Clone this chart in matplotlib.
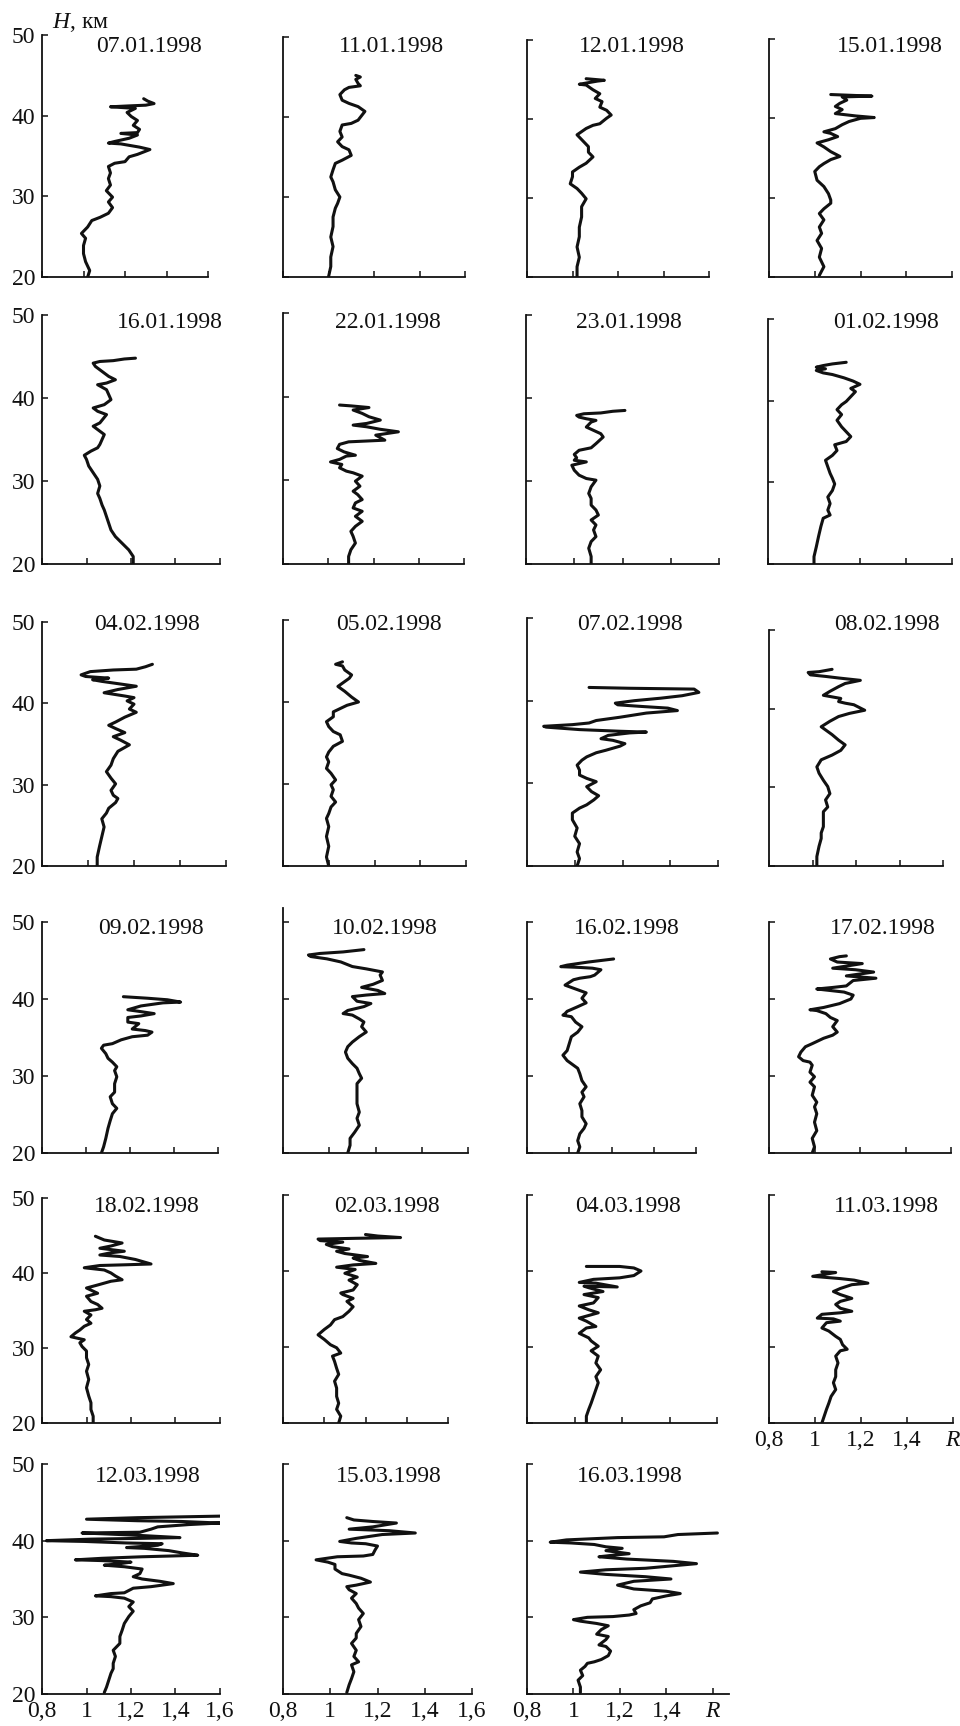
import matplotlib.pyplot as plt

plt.rcParams["font.family"] = ["Liberation Serif", "DejaVu Serif"]
plt.rcParams["mathtext.fontset"] = "custom"
plt.rcParams["mathtext.it"] = "Liberation Serif:italic"
plt.rcParams["mathtext.rm"] = "Liberation Serif"

# lidar scattering ratio profiles: (altitude H, km ; ratio R)
p_07_01 = [(20.0, 1.02), (20.8, 1.03), (21.9, 1.01), (22.9, 1.00), (23.9, 1.00), (24.8, 1.01), (25.4, 0.99),
           (26.2, 1.02), (27.0, 1.04), (27.4, 1.08), (27.9, 1.12), (28.6, 1.14), (29.3, 1.12), (29.9, 1.14),
           (30.7, 1.11), (31.4, 1.13), (32.2, 1.12), (32.9, 1.13), (33.7, 1.12), (34.1, 1.15), (34.3, 1.20),
           (34.9, 1.22), (35.2, 1.26), (35.5, 1.29), (35.8, 1.32), (36.1, 1.27), (36.5, 1.18), (36.6, 1.12),
           (36.8, 1.15), (37.2, 1.22), (37.6, 1.26), (37.8, 1.18), (37.9, 1.26), (38.3, 1.27), (38.8, 1.24),
           (39.4, 1.26), (39.9, 1.23), (40.4, 1.21), (40.9, 1.25), (41.1, 1.13), (41.2, 1.21), (41.3, 1.30),
           (41.5, 1.34), (41.8, 1.31), (42.1, 1.29)]
p_11_01 = [(20.0, 1.00), (21.3, 1.01), (22.5, 1.01), (23.8, 1.02), (25.0, 1.01), (26.3, 1.02), (27.5, 1.02),
           (28.6, 1.03), (29.2, 1.04), (30.0, 1.05), (30.9, 1.03), (31.9, 1.02), (32.5, 1.01), (33.4, 1.02),
           (34.2, 1.03), (34.6, 1.06), (35.2, 1.10), (35.9, 1.09), (36.3, 1.06), (36.9, 1.04), (37.5, 1.06),
           (38.2, 1.05), (39.0, 1.06), (39.2, 1.10), (39.6, 1.13), (40.7, 1.16), (41.3, 1.13), (41.7, 1.09),
           (42.1, 1.06), (42.8, 1.05), (43.4, 1.07), (43.7, 1.09), (43.9, 1.14), (44.2, 1.13), (44.7, 1.12),
           (45.0, 1.14), (45.2, 1.12)]
p_12_01 = [(20.0, 1.02), (21.3, 1.02), (22.5, 1.03), (23.8, 1.02), (25.1, 1.03), (26.3, 1.03), (27.6, 1.04),
           (28.9, 1.04), (29.9, 1.06), (30.6, 1.04), (31.2, 1.02), (31.8, 0.99), (32.7, 1.00), (33.3, 1.00),
           (33.9, 1.03), (34.4, 1.06), (35.2, 1.09), (35.8, 1.07), (36.5, 1.07), (37.1, 1.05), (38.0, 1.02),
           (38.4, 1.04), (38.8, 1.06), (39.2, 1.09), (39.4, 1.12), (40.1, 1.15), (40.5, 1.17), (41.1, 1.15),
           (41.5, 1.12), (42.2, 1.13), (42.6, 1.10), (43.2, 1.12), (43.7, 1.09), (44.3, 1.06), (44.4, 1.03),
           (44.6, 1.07), (44.8, 1.11), (44.9, 1.14), (45.1, 1.06)]
p_15_01 = [(20.2, 1.02), (21.3, 1.04), (22.5, 1.02), (23.6, 1.03), (24.6, 1.01), (25.5, 1.03), (26.3, 1.02),
           (27.2, 1.04), (28.0, 1.02), (28.6, 1.04), (29.3, 1.07), (29.7, 1.07), (30.5, 1.06), (31.4, 1.04),
           (32.2, 1.01), (33.3, 1.00), (33.9, 1.02), (34.3, 1.04), (34.8, 1.07), (35.2, 1.11), (35.8, 1.07),
           (36.4, 1.04), (36.9, 1.01), (37.3, 1.06), (37.7, 1.10), (38.1, 1.07), (38.3, 1.04), (38.7, 1.09),
           (39.2, 1.12), (39.6, 1.15), (40.0, 1.20), (40.1, 1.26), (40.3, 1.18), (40.4, 1.15), (40.6, 1.09),
           (41.1, 1.12), (41.5, 1.09), (41.9, 1.11), (42.3, 1.14), (42.7, 1.12), (42.8, 1.25), (43.0, 1.07)]
p_16_01 = [(20.0, 1.21), (20.9, 1.21), (21.7, 1.19), (22.5, 1.16), (23.3, 1.13), (24.1, 1.11), (24.9, 1.10),
           (25.7, 1.09), (26.5, 1.08), (27.1, 1.07), (27.9, 1.06), (28.5, 1.05), (29.4, 1.06), (30.2, 1.05),
           (31.0, 1.03), (31.8, 1.01), (32.6, 1.00), (33.1, 0.99), (33.6, 1.02), (34.0, 1.05), (34.4, 1.06),
           (35.0, 1.07), (35.6, 1.08), (36.2, 1.05), (36.6, 1.03), (37.0, 1.06), (38.0, 1.09), (38.4, 1.05),
           (38.8, 1.03), (39.2, 1.08), (39.8, 1.11), (40.4, 1.10), (41.0, 1.09), (41.6, 1.05), (41.8, 1.09),
           (42.2, 1.13), (42.6, 1.10), (43.2, 1.07), (43.8, 1.04), (44.2, 1.03), (44.4, 1.06), (44.5, 1.12),
           (44.7, 1.17), (44.8, 1.22)]
p_22_01 = [(20.0, 1.09), (20.9, 1.09), (21.7, 1.10), (22.5, 1.12), (23.3, 1.11), (23.9, 1.10), (24.5, 1.12),
           (25.1, 1.15), (25.7, 1.12), (26.3, 1.15), (26.7, 1.11), (27.3, 1.12), (27.7, 1.15), (28.3, 1.13),
           (28.7, 1.11), (29.3, 1.14), (29.9, 1.12), (30.5, 1.15), (30.9, 1.11), (31.1, 1.08), (31.5, 1.05),
           (31.9, 1.06), (32.2, 1.01), (32.5, 1.05), (32.9, 1.08), (33.0, 1.12), (33.4, 1.07), (33.8, 1.04),
           (34.3, 1.05), (34.6, 1.09), (34.7, 1.17), (34.8, 1.25), (35.4, 1.21), (35.8, 1.31), (36.1, 1.23),
           (36.4, 1.17), (36.6, 1.11), (36.8, 1.17), (37.2, 1.23), (37.6, 1.18), (38.0, 1.15), (38.4, 1.11),
           (38.7, 1.18), (38.9, 1.10), (39.0, 1.05)]
p_23_01 = [(20.0, 1.07), (20.9, 1.07), (21.9, 1.06), (22.7, 1.07), (23.3, 1.09), (24.1, 1.08), (24.7, 1.09),
           (25.3, 1.07), (25.9, 1.10), (26.5, 1.09), (27.1, 1.07), (27.9, 1.07), (28.5, 1.06), (29.3, 1.07),
           (30.1, 1.09), (30.3, 1.05), (30.7, 1.02), (31.3, 1.00), (31.9, 0.99), (32.3, 1.05), (32.5, 1.00),
           (32.8, 1.01), (33.2, 1.00), (33.7, 1.02), (34.0, 1.07), (34.5, 1.09), (35.3, 1.12), (35.7, 1.11),
           (36.1, 1.08), (36.5, 1.05), (37.1, 1.07), (37.3, 1.09), (37.5, 1.05), (37.7, 1.02), (37.9, 1.01),
           (38.1, 1.04), (38.2, 1.11), (38.4, 1.16), (38.5, 1.21)]
p_01_02 = [(20.0, 1.00), (20.9, 1.00), (22.1, 1.01), (23.4, 1.02), (24.6, 1.03), (25.6, 1.04), (26.0, 1.07),
           (26.6, 1.06), (27.4, 1.07), (28.2, 1.06), (29.0, 1.08), (29.8, 1.09), (30.5, 1.08), (31.1, 1.07),
           (31.9, 1.06), (32.7, 1.05), (33.3, 1.08), (33.9, 1.10), (34.6, 1.09), (35.0, 1.14), (35.6, 1.16),
           (36.2, 1.14), (36.8, 1.12), (37.6, 1.10), (38.3, 1.12), (38.9, 1.10), (39.5, 1.12), (39.9, 1.14),
           (40.5, 1.16), (41.1, 1.18), (41.5, 1.16), (42.0, 1.20), (42.4, 1.17), (42.8, 1.13), (43.2, 1.08),
           (43.4, 1.04), (43.7, 1.01), (43.9, 1.05), (44.1, 1.01), (44.3, 1.04), (44.5, 1.08), (44.7, 1.14)]
p_04_02 = [(20.0, 1.04), (21.1, 1.04), (22.4, 1.05), (23.6, 1.06), (24.8, 1.07), (25.8, 1.06), (26.5, 1.08),
           (27.1, 1.09), (27.8, 1.12), (28.3, 1.13), (28.7, 1.11), (29.3, 1.10), (30.1, 1.12), (30.8, 1.10),
           (31.6, 1.08), (32.4, 1.10), (33.2, 1.11), (34.1, 1.13), (34.9, 1.18), (35.5, 1.14), (35.9, 1.11),
           (36.4, 1.16), (36.9, 1.12), (37.3, 1.09), (37.7, 1.12), (38.3, 1.16), (38.9, 1.21), (39.3, 1.18),
           (39.9, 1.20), (40.3, 1.17), (40.7, 1.20), (40.9, 1.16), (41.3, 1.07), (41.7, 1.13), (42.1, 1.21),
           (42.7, 1.06), (42.9, 1.02), (43.1, 1.09), (43.3, 0.99), (43.5, 0.97), (43.9, 1.01), (44.1, 1.11),
           (44.2, 1.21), (44.5, 1.25), (44.8, 1.28)]
p_05_02 = [(20.0, 1.00), (21.1, 0.99), (22.4, 1.00), (23.6, 0.99), (24.8, 1.00), (25.8, 0.99), (26.4, 1.00),
           (27.2, 1.01), (27.8, 1.03), (28.5, 1.01), (29.3, 1.02), (29.9, 1.01), (30.5, 1.03), (31.3, 1.01),
           (31.9, 0.99), (32.7, 1.00), (33.3, 0.99), (33.9, 1.00), (34.6, 1.02), (35.2, 1.06), (36.0, 1.05),
           (36.4, 1.02), (37.0, 1.00), (37.6, 0.99), (38.2, 1.02), (38.8, 1.02), (39.2, 1.05), (39.6, 1.08),
           (40.0, 1.13), (40.6, 1.10), (41.3, 1.07), (41.9, 1.04), (42.3, 1.06), (42.9, 1.09), (43.3, 1.10),
           (43.9, 1.07), (44.4, 1.06), (44.6, 1.03), (44.9, 1.06)]
p_07_02 = [(20.0, 1.01), (20.9, 1.02), (21.7, 1.01), (22.7, 1.02), (23.6, 1.00), (24.6, 1.01), (25.6, 0.99),
           (26.4, 0.99), (27.0, 1.02), (27.4, 1.05), (28.0, 1.08), (28.5, 1.10), (29.0, 1.07), (29.6, 1.05),
           (30.2, 1.09), (30.6, 1.05), (31.0, 1.02), (31.6, 1.02), (32.2, 1.01), (32.8, 1.03), (33.2, 1.05),
           (33.7, 1.09), (34.0, 1.13), (34.5, 1.19), (34.8, 1.21), (35.2, 1.16), (35.4, 1.11), (35.8, 1.14),
           (36.1, 1.23), (36.2, 1.30), (36.3, 1.19), (36.5, 1.02), (36.8, 0.88), (36.9, 0.87), (37.1, 0.99),
           (37.3, 1.06), (37.6, 1.09), (38.0, 1.19), (38.5, 1.30), (38.8, 1.43), (39.1, 1.39), (39.3, 1.28),
           (39.5, 1.18), (39.7, 1.17), (40.0, 1.25), (40.3, 1.36), (40.6, 1.45), (41.0, 1.52), (41.4, 1.50),
           (41.5, 1.23), (41.6, 1.06)]
p_08_02 = [(20.0, 1.02), (21.2, 1.02), (22.5, 1.03), (23.5, 1.04), (24.2, 1.04), (25.0, 1.05), (26.1, 1.05),
           (26.9, 1.05), (27.5, 1.07), (28.4, 1.06), (29.2, 1.08), (30.1, 1.07), (30.9, 1.05), (31.8, 1.03),
           (32.6, 1.02), (33.5, 1.04), (34.1, 1.09), (34.7, 1.13), (35.4, 1.15), (36.0, 1.12), (36.7, 1.09),
           (37.3, 1.06), (37.7, 1.04), (38.4, 1.08), (39.0, 1.12), (39.4, 1.17), (39.8, 1.24), (40.5, 1.19),
           (40.7, 1.15), (40.9, 1.12), (41.3, 1.13), (41.5, 1.09), (41.7, 1.05), (42.2, 1.08), (42.8, 1.12),
           (43.2, 1.15), (43.6, 1.22), (43.9, 1.12), (44.1, 1.06), (44.3, 0.99), (44.6, 0.98), (44.7, 1.03),
           (45.0, 1.09)]
p_09_02 = [(20.0, 1.07), (20.8, 1.08), (21.9, 1.09), (23.2, 1.10), (24.2, 1.11), (25.1, 1.12), (25.8, 1.14),
           (26.4, 1.12), (27.3, 1.11), (27.9, 1.13), (29.0, 1.13), (29.9, 1.14), (30.7, 1.13), (31.2, 1.14),
           (31.8, 1.12), (32.3, 1.10), (32.9, 1.09), (33.6, 1.07), (34.0, 1.08), (34.2, 1.12), (34.7, 1.16),
           (35.1, 1.21), (35.3, 1.28), (35.7, 1.30), (35.9, 1.27), (36.1, 1.21), (36.8, 1.24), (37.0, 1.19),
           (37.6, 1.19), (37.8, 1.25), (38.1, 1.31), (38.4, 1.24), (38.6, 1.19), (39.1, 1.25), (39.5, 1.35),
           (39.6, 1.43), (39.9, 1.37), (40.1, 1.28), (40.3, 1.17)]
p_10_02 = [(20.0, 1.08), (21.0, 1.09), (21.9, 1.09), (22.7, 1.11), (23.6, 1.13), (24.5, 1.12), (25.3, 1.13),
           (26.4, 1.12), (27.3, 1.12), (28.1, 1.12), (29.0, 1.12), (29.7, 1.14), (30.3, 1.13), (31.0, 1.12),
           (31.6, 1.10), (32.3, 1.08), (33.1, 1.07), (33.8, 1.08), (34.4, 1.10), (35.1, 1.13), (35.7, 1.16),
           (36.4, 1.14), (37.0, 1.15), (37.4, 1.13), (37.9, 1.10), (38.1, 1.06), (38.5, 1.08), (39.0, 1.15),
           (39.4, 1.18), (39.7, 1.12), (40.3, 1.10), (40.5, 1.16), (40.7, 1.24), (41.1, 1.21), (41.5, 1.14),
           (41.9, 1.19), (42.4, 1.23), (43.1, 1.22), (43.5, 1.23), (43.9, 1.16), (44.2, 1.10), (44.8, 1.05),
           (45.2, 0.99), (45.5, 0.92), (45.7, 0.91), (45.9, 0.96), (46.1, 1.06), (46.4, 1.15)]
p_16_02 = [(20.0, 1.04), (20.8, 1.05), (21.6, 1.04), (22.5, 1.05), (23.2, 1.07), (23.8, 1.08), (24.7, 1.06),
           (25.5, 1.06), (26.4, 1.05), (27.3, 1.07), (27.9, 1.06), (28.6, 1.08), (29.4, 1.06), (30.3, 1.05),
           (31.0, 1.04), (31.6, 1.01), (32.0, 0.99), (32.7, 0.97), (33.3, 0.99), (34.2, 1.00), (35.1, 1.01),
           (35.7, 1.04), (36.4, 1.06), (37.0, 1.03), (37.7, 1.01), (37.9, 0.97), (38.1, 0.98), (38.4, 0.99),
           (39.0, 1.04), (39.5, 1.08), (40.1, 1.06), (40.8, 1.08), (41.2, 1.04), (41.6, 1.00), (41.8, 0.98),
           (42.5, 1.02), (42.7, 1.05), (42.9, 1.10), (43.1, 1.12), (43.8, 1.15), (44.0, 1.11), (44.1, 1.05),
           (44.2, 0.96), (44.4, 0.99), (44.8, 1.09), (45.2, 1.21)]
p_17_02 = [(20.0, 0.99), (20.8, 1.00), (21.9, 0.99), (22.9, 1.01), (24.0, 1.00), (25.1, 1.01), (26.0, 1.00),
           (26.6, 1.01), (27.5, 0.99), (28.6, 1.00), (29.2, 0.98), (29.9, 1.00), (30.5, 0.98), (31.4, 0.99),
           (31.8, 0.98), (32.0, 0.95), (32.5, 0.93), (33.1, 0.94), (33.8, 0.96), (34.2, 0.99), (34.9, 1.04),
           (35.3, 1.08), (35.7, 1.10), (36.4, 1.08), (37.2, 1.10), (37.6, 1.07), (38.1, 1.05), (38.5, 1.01),
           (38.6, 0.98), (38.9, 1.04), (39.4, 1.11), (40.0, 1.16), (40.5, 1.17), (40.9, 1.13), (41.1, 1.07),
           (41.3, 1.01), (41.5, 1.08), (41.7, 1.14), (42.4, 1.17), (42.7, 1.27), (43.0, 1.14), (43.5, 1.26),
           (43.8, 1.18), (44.0, 1.08), (44.6, 1.21), (44.8, 1.10), (45.2, 1.07), (45.5, 1.11), (45.6, 1.14)]
p_18_02 = [(20.0, 1.03), (20.9, 1.03), (21.8, 1.02), (22.7, 1.02), (23.6, 1.01), (24.7, 1.00), (25.8, 1.01),
           (26.9, 1.00), (27.8, 1.01), (28.7, 1.00), (29.6, 1.00), (30.2, 0.98), (30.7, 0.97), (31.1, 0.99),
           (31.5, 0.93), (32.0, 0.95), (32.4, 0.97), (32.9, 0.99), (33.3, 1.02), (33.8, 1.00), (34.4, 1.02),
           (34.9, 0.99), (35.1, 1.04), (35.3, 1.07), (35.8, 1.05), (36.2, 1.02), (36.9, 1.00), (37.3, 1.05),
           (38.0, 1.00), (38.4, 1.05), (38.9, 1.11), (39.1, 1.16), (39.6, 1.13), (40.0, 1.11), (40.4, 1.08),
           (40.7, 0.99), (41.0, 1.06), (41.1, 1.18), (41.2, 1.29), (41.8, 1.22), (42.2, 1.15), (42.4, 1.06),
           (42.7, 1.11), (42.9, 1.17), (43.3, 1.06), (43.6, 1.11), (44.0, 1.16), (44.4, 1.08), (44.9, 1.04)]
p_02_03 = [(20.0, 1.07), (20.9, 1.08), (21.8, 1.06), (22.6, 1.07), (23.5, 1.06), (24.6, 1.06), (25.5, 1.05),
           (26.4, 1.07), (27.2, 1.06), (28.1, 1.05), (28.8, 1.04), (29.2, 1.08), (29.9, 1.06), (30.3, 1.03),
           (31.0, 1.00), (31.6, 0.97), (32.3, 1.00), (32.9, 1.03), (33.6, 1.05), (34.0, 1.09), (34.7, 1.12),
           (35.3, 1.14), (36.0, 1.11), (36.4, 1.14), (36.9, 1.09), (37.1, 1.08), (37.5, 1.14), (38.2, 1.16),
           (38.8, 1.12), (39.2, 1.16), (39.7, 1.10), (40.2, 1.15), (40.5, 1.06), (40.8, 1.14), (41.0, 1.25),
           (41.4, 1.17), (41.7, 1.14), (41.9, 1.21), (42.3, 1.10), (42.6, 1.06), (42.9, 1.12), (43.2, 1.04),
           (43.5, 1.01), (43.8, 1.09), (44.0, 0.98), (44.2, 0.97), (44.3, 1.15), (44.4, 1.37), (44.6, 1.26),
           (44.8, 1.20)]
p_04_03 = [(20.0, 1.05), (20.9, 1.05), (21.8, 1.06), (22.6, 1.07), (23.5, 1.08), (24.4, 1.09), (25.3, 1.10),
           (26.1, 1.09), (27.0, 1.11), (27.9, 1.09), (28.8, 1.10), (29.5, 1.07), (30.1, 1.10), (30.8, 1.07),
           (31.2, 1.06), (31.8, 1.02), (32.5, 1.05), (32.7, 1.09), (33.4, 1.05), (33.8, 1.02), (34.5, 1.10),
           (34.9, 1.06), (35.4, 1.02), (35.8, 1.08), (36.5, 1.10), (36.9, 1.04), (37.3, 1.12), (37.8, 1.06),
           (38.0, 1.04), (37.9, 1.18), (38.4, 1.09), (38.5, 1.02), (38.9, 1.08), (39.1, 1.19), (39.4, 1.25),
           (40.0, 1.28), (40.4, 1.25), (40.6, 1.19), (40.6, 1.05)]
p_11_03 = [(20.0, 1.03), (20.9, 1.04), (21.8, 1.05), (22.6, 1.06), (23.5, 1.07), (24.4, 1.09), (25.3, 1.08),
           (26.1, 1.09), (27.0, 1.09), (27.9, 1.10), (28.8, 1.09), (29.5, 1.11), (29.7, 1.14), (30.3, 1.12),
           (31.0, 1.11), (31.4, 1.09), (32.1, 1.06), (32.5, 1.03), (33.2, 1.05), (33.4, 1.11), (33.7, 1.08),
           (33.8, 1.01), (34.3, 1.03), (34.5, 1.11), (34.7, 1.16), (35.1, 1.11), (35.6, 1.09), (36.0, 1.11),
           (36.4, 1.16), (36.9, 1.11), (37.3, 1.08), (37.7, 1.11), (38.2, 1.16), (38.4, 1.23), (38.8, 1.17),
           (39.0, 1.11), (39.3, 0.99), (39.6, 1.05), (39.8, 1.09), (39.9, 1.03)]
p_12_03 = [(20.2, 1.08), (20.9, 1.09), (21.8, 1.10), (22.7, 1.11), (23.3, 1.12), (24.0, 1.12), (24.9, 1.13),
           (25.7, 1.12), (26.6, 1.15), (27.5, 1.15), (28.3, 1.16), (29.2, 1.17), (30.1, 1.19), (30.8, 1.21),
           (31.4, 1.19), (32.0, 1.21), (32.5, 1.17), (32.7, 1.11), (32.8, 1.04), (33.1, 1.11), (33.2, 1.17),
           (33.8, 1.21), (34.0, 1.29), (34.4, 1.39), (34.7, 1.33), (35.0, 1.25), (35.3, 1.21), (35.7, 1.24),
           (36.3, 1.25), (36.6, 1.17), (36.8, 1.08), (37.0, 1.15), (37.2, 1.20), (37.4, 1.07), (37.5, 0.95),
           (37.7, 1.07), (37.9, 1.25), (38.0, 1.38), (38.1, 1.50), (38.4, 1.43), (38.7, 1.37), (39.0, 1.26),
           (39.1, 1.18), (39.4, 1.32), (39.6, 1.34), (39.7, 1.18), (39.9, 0.99), (40.0, 0.82), (40.2, 1.02),
           (40.3, 1.24), (40.4, 1.42), (40.7, 1.23), (40.9, 1.07), (41.0, 0.98), (41.05, 1.11), (41.1, 1.24),
           (41.5, 1.29), (41.8, 1.32), (42.1, 1.46), (42.3, 1.60), (42.5, 1.43), (42.6, 1.23), (42.8, 1.00),
           (43.0, 1.23), (43.2, 1.60)]
p_15_03 = [(20.2, 1.07), (21.2, 1.08), (22.0, 1.09), (22.9, 1.10), (23.8, 1.09), (24.2, 1.12), (24.9, 1.10),
           (25.7, 1.11), (26.6, 1.09), (27.3, 1.11), (27.9, 1.11), (28.8, 1.13), (29.7, 1.12), (30.5, 1.14),
           (31.2, 1.12), (31.8, 1.11), (32.5, 1.09), (33.1, 1.11), (33.6, 1.08), (34.0, 1.07), (34.2, 1.11),
           (34.6, 1.17), (35.1, 1.13), (35.5, 1.08), (35.7, 1.05), (36.3, 1.02), (36.9, 1.02), (37.2, 0.99),
           (37.5, 0.94), (37.9, 1.03), (38.0, 1.14), (38.2, 1.18), (38.8, 1.19), (39.3, 1.20), (39.6, 1.15),
           (39.7, 1.09), (39.9, 1.04), (40.3, 1.11), (40.8, 1.22), (41.0, 1.36), (41.3, 1.25), (41.5, 1.08),
           (41.8, 1.18), (42.3, 1.28), (42.5, 1.18), (42.7, 1.10), (43.0, 1.07)]
p_16_03 = [(20.2, 1.03), (20.9, 1.03), (21.8, 1.02), (22.4, 1.04), (23.1, 1.03), (23.6, 1.05), (24.0, 1.06),
           (24.2, 1.09), (24.5, 1.12), (25.0, 1.15), (25.6, 1.16), (26.2, 1.14), (26.4, 1.11), (27.1, 1.14),
           (27.5, 1.15), (27.8, 1.10), (28.4, 1.12), (28.9, 1.15), (29.2, 1.10), (29.5, 1.03), (29.7, 1.00),
           (30.0, 1.06), (30.1, 1.17), (30.3, 1.24), (30.5, 1.27), (31.0, 1.26), (31.5, 1.29), (31.9, 1.33),
           (32.4, 1.34), (32.8, 1.40), (33.1, 1.46), (33.4, 1.40), (33.7, 1.26), (34.2, 1.19), (34.7, 1.26),
           (35.0, 1.42), (35.3, 1.31), (35.6, 1.14), (35.9, 1.03), (36.2, 1.14), (36.4, 1.31), (37.0, 1.53),
           (37.3, 1.43), (37.6, 1.23), (37.9, 1.11), (38.1, 1.17), (38.3, 1.24), (38.7, 1.14), (39.0, 1.21),
           (39.2, 1.14), (39.5, 1.09), (39.7, 0.99), (39.8, 0.90), (40.1, 0.97), (40.4, 1.19), (40.5, 1.39),
           (40.8, 1.45), (41.0, 1.62)]

dates = ["07.01.1998", "11.01.1998", "12.01.1998", "15.01.1998",
         "16.01.1998", "22.01.1998", "23.01.1998", "01.02.1998",
         "04.02.1998", "05.02.1998", "07.02.1998", "08.02.1998",
         "09.02.1998", "10.02.1998", "16.02.1998", "17.02.1998",
         "18.02.1998", "02.03.1998", "04.03.1998", "11.03.1998",
         "12.03.1998", "15.03.1998", "16.03.1998"]
profiles = [p_07_01, p_11_01, p_12_01, p_15_01,
            p_16_01, p_22_01, p_23_01, p_01_02,
            p_04_02, p_05_02, p_07_02, p_08_02,
            p_09_02, p_10_02, p_16_02, p_17_02,
            p_18_02, p_02_03, p_04_03, p_11_03,
            p_12_03, p_15_03, p_16_03]

r_ticks = [0.8, 1.0, 1.2, 1.4, 1.6]
r_labels = ["0,8", "1", "1,2", "1,4", "1,6"]
r_labels_end = ["0,8", "1", "1,2", "1,4", "$R$"]
h_ticks = [20, 30, 40, 50]
h_labels = ["20", "30", "40", "50"]

# frame of each panel in pixels: left, right, top, bottom
boxes = [(42, 208, 35, 277), (283, 465, 37, 277), (527, 709, 40, 277), (769, 952, 39, 277),
         (42, 220, 315, 564), (283, 464, 313, 564), (526, 719, 315, 564), (768, 952, 319, 564),
         (42, 226, 622, 866), (283, 466, 620, 866), (527, 718, 618, 866), (769, 943, 630, 866),
         (42, 218, 922, 1153), (283, 468, 908, 1153), (527, 696, 922, 1153), (769, 951, 922, 1153),
         (42, 220, 1198, 1423), (283, 448, 1195, 1423), (527, 717, 1195, 1423), (769, 953, 1195, 1423),
         (42, 220, 1464, 1694), (283, 472, 1464, 1694), (527, 729, 1464, 1694)]
title_x = [149, 391, 632, 890, 170, 388, 629, 886, 147, 389, 630, 887,
           151, 385, 627, 883, 147, 387, 628, 886, 148, 389, 630]
title_y = [47, 322, 625, 928, 1207, 1477]

W, H = 960, 1726
fig = plt.figure(figsize=(W / 100, H / 100), dpi=100)
ink = "#111111"

for i, (date, prof) in enumerate(zip(dates, profiles)):
    x0, x1, top, bot = boxes[i]
    ax = fig.add_axes([x0 / W, 1 - bot / H, (x1 - x0) / W, (bot - top) / H])
    hs = [p[0] for p in prof]
    rs = [p[1] for p in prof]
    ax.plot(rs, hs, color=ink, lw=2.2, solid_joinstyle="round", solid_capstyle="round")

    ax.set_xlim(0.8, 1.67 if i == 22 else 1.6)
    ax.set_ylim(20, 51.8 if i == 13 else 50)
    for side in ("top", "right"):
        ax.spines[side].set_visible(False)
    for side in ("left", "bottom"):
        ax.spines[side].set_linewidth(1.3)
        ax.spines[side].set_color(ink)

    ax.set_xticks(r_ticks)
    ax.set_yticks(h_ticks)
    ax.tick_params(direction="in", length=4, width=1.1, colors=ink,
                   labelsize=17, pad=5)
    if i % 4 == 0:
        ax.set_yticklabels(h_labels)
    else:
        ax.set_yticklabels([])
    if i in (19, 22):
        ax.set_xticklabels(r_labels_end)
    elif i in (20, 21):
        ax.set_xticklabels(r_labels)
    else:
        ax.set_xticklabels([])

    fig.text(title_x[i] / W, 1 - title_y[i // 4] / H, date, ha="center",
             va="center", fontsize=17, color=ink)

fig.text(52 / W, 1 - 22 / H, "$H$, км", ha="left", va="center", fontsize=17, color=ink)

fig.savefig("out.png", dpi=100, facecolor="white")
